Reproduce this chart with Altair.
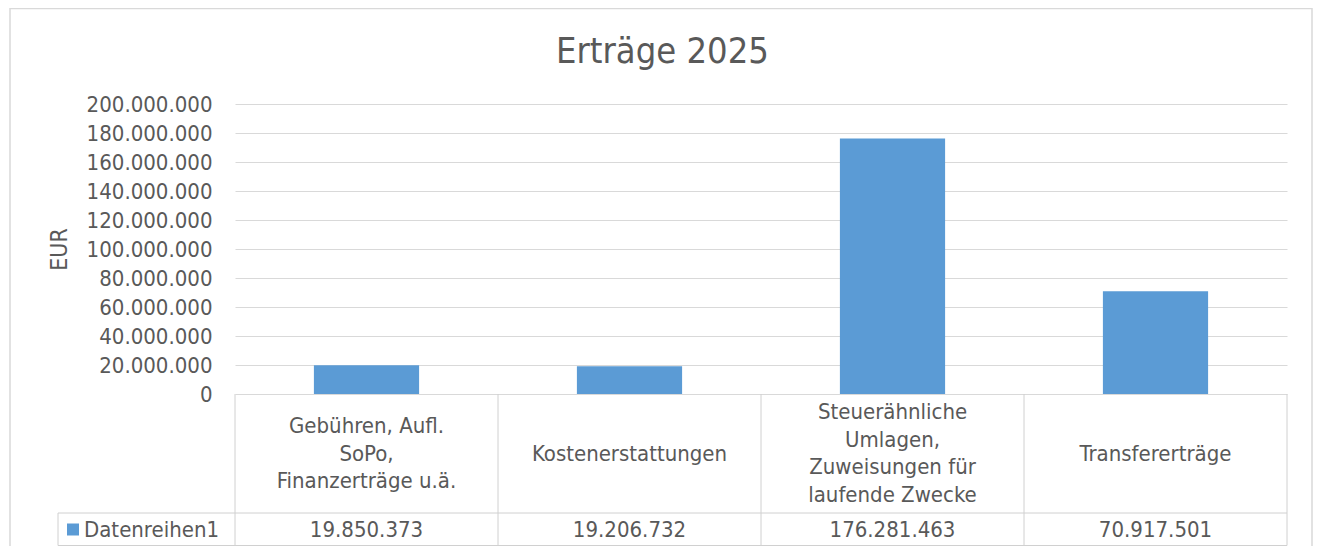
import altair as alt
import pandas as pd

# ---- data ----
categories = [
    "Gebühren, Aufl.\nSoPo,\nFinanzerträge u.ä.",
    "Kostenerstattungen",
    "Steuerähnliche\nUmlagen,\nZuweisungen für\nlaufende Zwecke",
    "Transfererträge",
]
values = [19850373, 19206732, 176281463, 70917501]
series_name = "Datenreihen1"
y_ticks = [0, 20000000, 40000000, 60000000, 80000000, 100000000,
           120000000, 140000000, 160000000, 180000000, 200000000]
chart_title = "Erträge 2025"
y_title = "EUR"

df = pd.DataFrame({"cat": categories, "value": values,
                   "series": [series_name] * len(categories)})
deco_df = pd.DataFrame({"k": [0]})

FONT = "DejaVu Sans Condensed, DejaVu Sans"
TXT = "#595959"
GRID = "#D9D9D9"
TBL = "#D0D0D0"
BAR = "#5B9BD5"

W, H = 1052, 442
BAR_H = 290
ROW_DIV = 409
LEG_X = -177
LINE_H = 27.5
DOT_FMT = "join(split(format(datum.value, ','), ','), '.')"

xscale = alt.Scale(paddingInner=0, paddingOuter=0)
xenc = alt.X("cat:N", sort=categories, scale=xscale, axis=None)

base = alt.Chart(df)
deco = alt.Chart(deco_df)

bars = base.mark_bar(width=alt.RelativeBandSize(0.4)).encode(
    x=xenc,
    y=alt.Y("value:Q",
            scale=alt.Scale(domain=[0, 200000000], range=[BAR_H, 0], nice=False),
            axis=alt.Axis(values=y_ticks, labelExpr=DOT_FMT, labelFont=FONT,
                          labelFontSize=22, labelColor=TXT, labelPadding=23,
                          ticks=False, domain=False, gridColor=GRID, gridWidth=1,
                          title=y_title, titleFont=FONT, titleFontSize=23,
                          titleColor=TXT, titleFontWeight="normal",
                          titleX=-175.5, titleY=145, titleAngle=270,
                          titleAlign="center", titleBaseline="middle")),
    color=alt.Color("series:N",
                    scale=alt.Scale(domain=[series_name], range=[BAR]),
                    legend=alt.Legend(orient="none", legendX=-173, legendY=414.5,
                                      title=None, symbolType="square",
                                      symbolSize=144, symbolStrokeWidth=0,
                                      labelFont=FONT, labelFontSize=22,
                                      labelColor=TXT, labelOffset=0, padding=0)),
)

vrules = base.mark_rule(color=TBL, strokeWidth=1).encode(
    x=alt.X("cat:N", sort=categories, scale=xscale, axis=None, bandPosition=0),
    y=alt.value(BAR_H), y2=alt.value(H - 0.5),
)
right_rule = base.transform_filter(alt.datum.cat == categories[-1]).mark_rule(
    color=TBL, strokeWidth=1).encode(
    x=alt.X("cat:N", sort=categories, scale=xscale, axis=None, bandPosition=1),
    y=alt.value(BAR_H), y2=alt.value(H - 0.5),
)
row_rule = deco.mark_rule(color=TBL, strokeWidth=1).encode(
    x=alt.value(LEG_X), x2=alt.value(W), y=alt.value(ROW_DIV))
bottom_rule = deco.mark_rule(color=TBL, strokeWidth=1).encode(
    x=alt.value(LEG_X), x2=alt.value(W), y=alt.value(H - 0.5))
leg_rule = deco.mark_rule(color=TBL, strokeWidth=1).encode(
    x=alt.value(LEG_X), y=alt.value(ROW_DIV), y2=alt.value(H - 0.5))

cat_text = base.transform_calculate(
    off=f"-(length(split(datum.cat, '\\n')) - 1) * {LINE_H / 2}"
).mark_text(font=FONT, fontSize=22, color=TXT, lineBreak="\n",
            lineHeight=LINE_H, baseline="middle", align="center").encode(
    x=xenc, y=alt.value(349.5), yOffset=alt.YOffset("off:Q", scale=None),
    text="cat:N")

val_text = base.transform_calculate(lbl=DOT_FMT).mark_text(
    font=FONT, fontSize=22, color=TXT, baseline="middle", align="center").encode(
    x=xenc, y=alt.value(426), text="lbl:N")

title = deco.transform_calculate(t=f"'{chart_title}'").mark_text(
    font=FONT, fontSize=36, color=TXT, baseline="alphabetic", align="center").encode(
    x=alt.value(427.5), y=alt.value(-41), text="t:N")

border = deco.mark_rect(filled=False, stroke=GRID, strokeWidth=1.5).encode(
    x=alt.value(-225), x2=alt.value(1077), y=alt.value(-95.5), y2=alt.value(470))

chart = alt.layer(
    border, bars, vrules, right_rule, row_rule, bottom_rule, leg_rule,
    cat_text, val_text, title,
).properties(
    width=W, height=H,
    padding={"left": 227, "top": 96, "right": 26, "bottom": 0},
    autosize=alt.AutoSizeParams(type="none"),
).configure_view(stroke=None)

chart.save("out.html", embed_options={"renderer": "svg", "actions": False})
